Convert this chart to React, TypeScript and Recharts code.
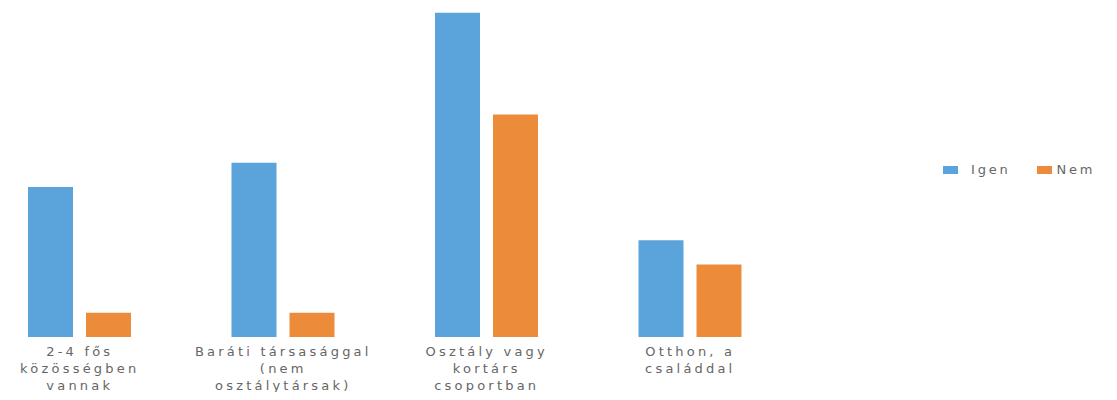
import { BarChart, Bar, XAxis, YAxis, Legend } from 'recharts';

// Categories, split into the lines shown under each group
const categories = [
    ['2-4 fős', 'közösségben', 'vannak'],
    ['Baráti társasággal', '(nem', 'osztálytársak)'],
    ['Osztály vagy', 'kortárs', 'csoportban'],
    ['Otthon, a', 'családdal'],
];
const igen = [31, 36, 67, 20];
const nem = [5, 5, 46, 15];

const BLUE = '#5BA3DB';
const ORANGE = '#EC8B3A';
const TEXT = '#666666';

const data = categories.map((lines, i) => ({
    name: lines.join(' '),
    igen: igen[i],
    nem: nem[i],
}));

const CategoryTick = (props: any) => {
    const { x, y, index } = props;
    const lines = categories[index] || [];
    return (
        <g transform={`translate(${x},${y})`}>
            {lines.map((line, i) => (
                <text
                    key={i}
                    x={0}
                    y={11 + i * 17}
                    textAnchor="middle"
                    fill={TEXT}
                    fontSize={13}
                    letterSpacing={3.2}
                    fontFamily="DejaVu Sans"
                >
                    {line}
                </text>
            ))}
        </g>
    );
};

const LegendContent = () => (
    <div style={{ display: 'flex', fontFamily: 'DejaVu Sans', fontSize: 13, color: TEXT, letterSpacing: 2.8, whiteSpace: 'nowrap' }}>
        <div style={{ display: 'flex', alignItems: 'center', marginRight: 26 }}>
            <span style={{ width: 15, height: 8, flexShrink: 0, background: BLUE, marginRight: 13 }} />
            Igen
        </div>
        <div style={{ display: 'flex', alignItems: 'center' }}>
            <span style={{ width: 15, height: 8, flexShrink: 0, background: ORANGE, marginRight: 5 }} />
            Nem
        </div>
    </div>
);

const App = () => {
    return (
        <div style={{ marginLeft: -30, marginBottom: -8, width: 1139, height: 392 }}>
            <BarChart
                width={1139}
                height={392}
                data={data}
                margin={{ top: 0, right: 325, bottom: 0, left: 0 }}
                barSize={45}
                barGap={13}
            >
                <XAxis
                    dataKey="name"
                    axisLine={false}
                    tickLine={false}
                    interval={0}
                    height={63}
                    tick={<CategoryTick />}
                />
                <YAxis hide domain={[0, 68]} />
                {/* zero-height wrapper so the legend takes no room from the plot */}
                <Legend
                    content={<LegendContent />}
                    wrapperStyle={{ left: 965, top: 154, bottom: 'auto', width: 'auto', height: 0, overflow: 'visible' }}
                />
                <Bar dataKey="igen" name="Igen" fill={BLUE} isAnimationActive={false} />
                <Bar dataKey="nem" name="Nem" fill={ORANGE} isAnimationActive={false} />
            </BarChart>
        </div>
    );
};

export default App;
